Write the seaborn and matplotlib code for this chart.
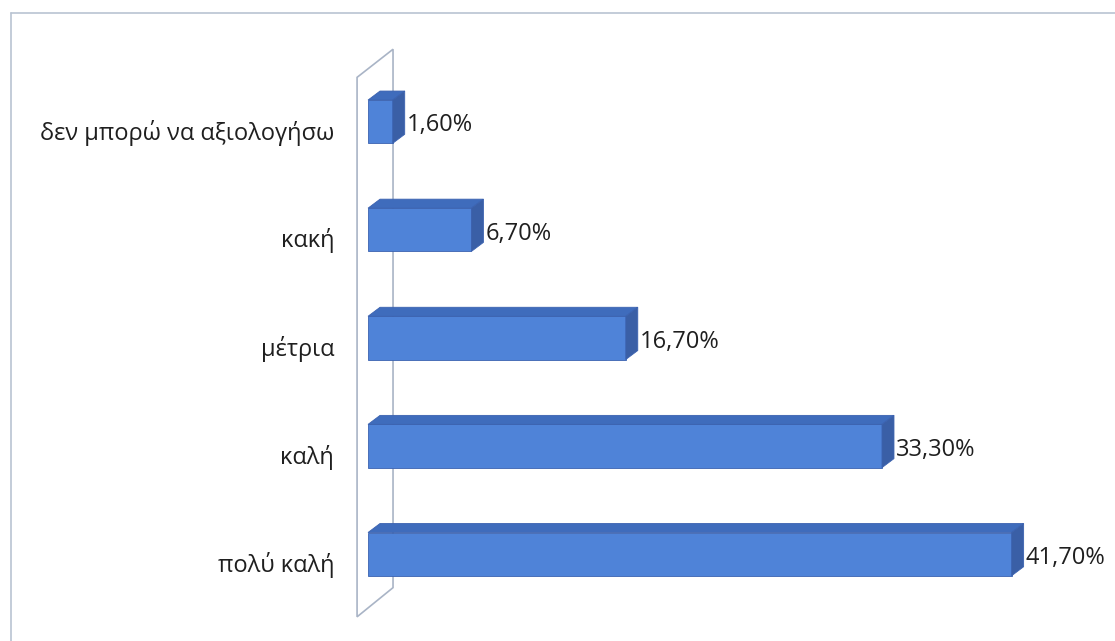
import matplotlib
matplotlib.use("Agg")
import matplotlib.pyplot as plt
import seaborn as sns
import pandas as pd
from matplotlib.patches import Polygon
from matplotlib.lines import Line2D
from matplotlib.transforms import ScaledTranslation

categories = ["δεν μπορώ να αξιολογήσω", "κακή", "μέτρια", "καλή", "πολύ καλή"]
values = [1.6, 6.7, 16.7, 33.3, 41.7]
value_labels = ["1,60%", "6,70%", "16,70%", "33,30%", "41,70%"]

sns.set_theme(style="white")
plt.rcParams["font.family"] = ["Open Sans", "DejaVu Sans"]

FRONT = "#4f83d8"
TOP = "#3f6cbc"
SIDE = "#3a5fa6"
EDGE = "#3b62b0"
TEXT = "#1f1f1f"

fig = plt.figure(figsize=(11.15, 6.41), dpi=100)
fig.patch.set_facecolor("white")
ax = fig.add_axes([349.5 / 1115, 22 / 641, (1078 - 349.5) / 1115, (619 - 46) / 641])

df = pd.DataFrame({"cat": categories, "val": values})
sns.barplot(data=df, y="cat", x="val", orient="h", width=0.4, color=FRONT,
            saturation=1, ax=ax, zorder=3, edgecolor=EDGE, linewidth=0.6)

ax.set_xlim(-1.2, 46)
ax.set_ylim(4.6, -0.7)

# pixel-to-data scale for 3D depth
px_per_x = 15.44
px_per_y = 108.0
dx = 12 / px_per_x
dy = -9 / px_per_y  # up (axis inverted)

# back wall
wall = Polygon([(-0.71, 4.58), (-0.71, -0.41), (1.62, -0.67), (1.62, 4.31)],
               closed=True, facecolor="none", edgecolor="#a9b4c6", linewidth=1.2, zorder=1)
ax.add_patch(wall)

for p, lab in zip(ax.patches[:len(values)], value_labels):
    x0 = p.get_x()
    w = p.get_width()
    y0 = p.get_y()
    h = p.get_height()
    x1 = x0 + w
    ytop = y0  # inverted axis: smaller y is on top
    ybot = y0 + h
    top = Polygon([(x0, ytop), (x1, ytop), (x1 + dx, ytop + dy), (x0 + dx, ytop + dy)],
                  closed=True, facecolor=TOP, edgecolor=EDGE, linewidth=0.6, zorder=4)
    side = Polygon([(x1, ytop), (x1 + dx, ytop + dy), (x1 + dx, ybot + dy), (x1, ybot)],
                   closed=True, facecolor=SIDE, edgecolor=EDGE, linewidth=0.6, zorder=4)
    ax.add_patch(top)
    ax.add_patch(side)
    ax.text(x1 + dx + 0.15, y0 + h / 2 + 0.035, lab, ha="left", va="center",
            fontsize=17, color=TEXT, zorder=5)

ax.set_xlabel("")
ax.set_ylabel("")
ax.set_xticks([])
for s in ax.spines.values():
    s.set_visible(False)
ax.tick_params(axis="y", length=0, pad=11, labelsize=17, labelcolor=TEXT)
shift = ScaledTranslation(0, -8 / 100, fig.dpi_scale_trans)
for t in ax.get_yticklabels():
    t.set_transform(t.get_transform() + shift)
ax.patch.set_alpha(0)

# outer frame (top and left edges visible)
fig.add_artist(Line2D([11 / 1115, 1.0], [1 - 13 / 641, 1 - 13 / 641],
                      transform=fig.transFigure, color="#b9c3d2", linewidth=1.2))
fig.add_artist(Line2D([11 / 1115, 11 / 1115], [0, 1 - 13 / 641],
                      transform=fig.transFigure, color="#b9c3d2", linewidth=1.2))

fig.savefig("out.png", dpi=100)
